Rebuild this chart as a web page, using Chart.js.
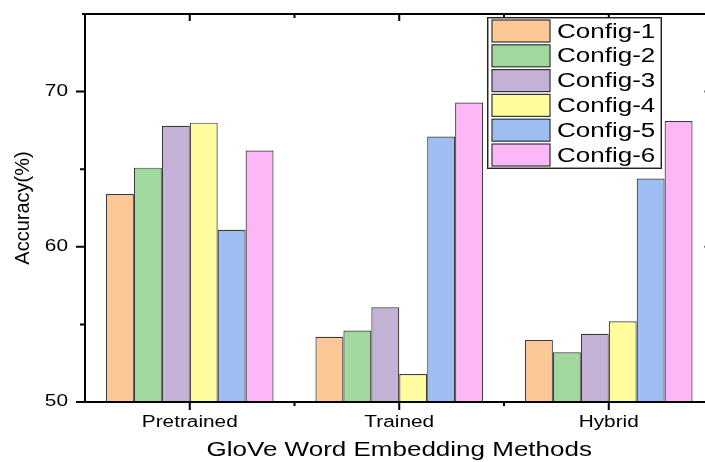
<!DOCTYPE html>
<html>
<head>
<meta charset="utf-8">
<script src="https://cdn.jsdelivr.net/npm/chart.js@4"></script>
<style>
  html, body { margin:0; padding:0; background:#fff; overflow:hidden; width:705px; height:462px; }
  #wrap { position:relative; width:725px; height:462px; }
</style>
</head>
<body>
<div id="wrap"><canvas id="chart"></canvas></div>
<script>
const methods = ['Pretrained', 'Trained', 'Hybrid'];
const configNames = ['Config-1', 'Config-2', 'Config-3', 'Config-4', 'Config-5', 'Config-6'];
const config1 = [63.4, 54.2, 54.0];
const config2 = [65.1, 54.6, 53.2];
const config3 = [67.8, 56.1, 54.4];
const config4 = [68.0, 51.8, 55.2];
const config5 = [61.1, 67.1, 64.4];
const config6 = [66.2, 69.3, 68.1];
const yMajor = [50, 60, 70];
const yMinor = [55, 65];

const fills = ['#fcc896', '#a0d89d', '#c3b2d6', '#fffc9d', '#9dbdf3', '#fdb6f6'];
const FONT = "'Liberation Sans', Arial, sans-serif";
const STRETCH = 1.3;   // the source figure has horizontally widened lettering

const canvas = document.getElementById('chart');
const cx = canvas.getContext('2d');
const rawFill = cx.fillText.bind(cx);
cx.fillText = function (text, x, y, maxWidth) {
  const m = this.getTransform();
  if (m.b !== 0 || m.c !== 0) return rawFill(text, x, y, maxWidth);   // rotated text stays as is
  this.save();
  this.translate(x, y);
  this.scale(STRETCH, 1);
  rawFill(text, 0, 0, maxWidth);
  this.restore();
};

// axes frame + tick marks (bottom/left outward, top/right inward) and the boxed legend
const frame = {
  id: 'frame',
  afterDraw(chart) {
    const { ctx, chartArea: a, scales: { x, y } } = chart;
    ctx.save();
    ctx.strokeStyle = '#000';
    ctx.lineWidth = 2;
    ctx.beginPath();
    ctx.moveTo(a.left - 3, a.top); ctx.lineTo(a.right, a.top);
    ctx.moveTo(a.left, a.top); ctx.lineTo(a.left, a.bottom + 1);
    ctx.moveTo(a.left - 1, a.bottom); ctx.lineTo(a.right, a.bottom);
    ctx.moveTo(a.right, a.top); ctx.lineTo(a.right, a.bottom);
    yMajor.forEach(v => {
      const py = y.getPixelForValue(v);
      ctx.moveTo(a.left - 9, py); ctx.lineTo(a.left, py);
      ctx.moveTo(a.right - 9, py); ctx.lineTo(a.right, py);
    });
    yMinor.forEach(v => {
      const py = y.getPixelForValue(v);
      ctx.moveTo(a.left - 5, py); ctx.lineTo(a.left, py);
      ctx.moveTo(a.right - 5, py); ctx.lineTo(a.right, py);
    });
    methods.forEach((m, i) => {
      const px = x.getPixelForValue(i);
      ctx.moveTo(px, a.bottom); ctx.lineTo(px, a.bottom + 8);
      ctx.moveTo(px, a.top); ctx.lineTo(px, a.top + 7);
      if (i > 0) {
        const mx = (px + x.getPixelForValue(i - 1)) / 2;
        ctx.moveTo(mx, a.bottom); ctx.lineTo(mx, a.bottom + 4);
        ctx.moveTo(mx, a.top); ctx.lineTo(mx, a.top + 4);
      }
    });
    ctx.stroke();

    // legend
    const lx = a.left + 402, ly = a.top + 3, lw = 174, lh = 151;
    ctx.fillStyle = '#fff';
    ctx.fillRect(lx, ly, lw, lh);
    ctx.lineWidth = 1;
    ctx.strokeStyle = '#9a9a9a';
    ctx.strokeRect(lx + 1.5, ly + 1.5, lw - 2, lh - 2);
    ctx.strokeStyle = '#222';
    ctx.strokeRect(lx + 0.5, ly + 0.5, lw, lh);
    ctx.font = '20px ' + FONT;
    ctx.textBaseline = 'middle';
    chart.data.datasets.forEach((ds, i) => {
      const ry = ly + 3 + i * 24.8;
      ctx.fillStyle = ds.backgroundColor;
      ctx.fillRect(lx + 5, ry, 58, 22);
      ctx.strokeStyle = '#333';
      ctx.lineWidth = 1.2;
      ctx.strokeRect(lx + 5, ry, 58, 22);
      ctx.fillStyle = '#000';
      ctx.fillText(ds.label, lx + 70, ry + 12);
    });
    ctx.restore();
  }
};

const series = [config1, config2, config3, config4, config5, config6];

new Chart(canvas, {
  type: 'bar',
  data: {
    labels: methods,
    datasets: series.map((d, i) => ({
      label: configNames[i],
      data: d,
      backgroundColor: fills[i],
      borderColor: '#3a3a3a',
      borderWidth: 1.2,
      categoryPercentage: 0.8,
      barPercentage: 1.0
    }))
  },
  options: {
    responsive: true,
    maintainAspectRatio: false,
    animation: false,
    layout: { padding: { top: 14, right: 11.5, left: 0, bottom: 0 } },
    plugins: { legend: { display: false }, tooltip: { enabled: false } },
    scales: {
      x: {
        afterFit: s => { s.height = 60; s.paddingLeft = 0; s.paddingRight = 0; },
        grid: { display: false, drawTicks: false },
        border: { display: false },
        ticks: { color: '#000', font: { family: FONT, size: 16 }, padding: 11 },
        title: { display: true, text: 'GloVe Word Embedding Methods', color: '#000',
                 font: { family: FONT, size: 20 }, padding: { top: -2, bottom: 0 } }
      },
      y: {
        min: 50, max: 75,
        afterBuildTicks: s => { s.ticks = yMajor.map(v => ({ value: v })); },
        afterFit: s => { s.width = 85; s.paddingTop = 0; s.paddingBottom = 0; },
        grid: { display: false, drawTicks: false },
        border: { display: false },
        ticks: { color: '#000', font: { family: FONT, size: 16 }, padding: 17 },
        title: { display: true, text: 'Accuracy(%)', color: '#000',
                 font: { family: FONT, size: 20 }, padding: { top: 11, bottom: 0 } }
      }
    }
  },
  plugins: [frame]
});
</script>
</body>
</html>
